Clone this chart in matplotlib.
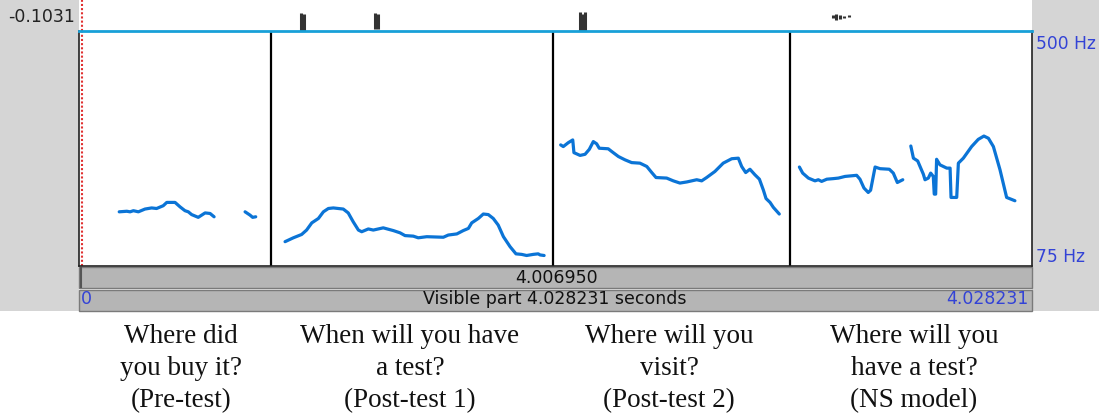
import matplotlib
matplotlib.use("Agg")
from matplotlib import pyplot as plt
from matplotlib.patches import Rectangle

# pitch tracks, time (s) and F0 (Hz)
pre_a_t = [0.170, 0.202, 0.216, 0.230, 0.251, 0.279, 0.307, 0.328, 0.356, 0.371, 0.406, 0.427,
           0.448, 0.462, 0.476, 0.504, 0.533, 0.554, 0.571]
pre_a_f = [173, 174, 173, 175, 173, 178, 180, 179, 184, 190, 190, 182, 175, 173, 168, 163, 171, 170, 164]
pre_b_t = [0.702, 0.723, 0.734, 0.747]
pre_b_f = [173, 167, 163, 164]

post1_t = [0.871, 0.906, 0.941, 0.962, 0.984, 1.012, 1.033, 1.054, 1.075, 1.117, 1.138, 1.159, 1.181,
           1.195, 1.223, 1.244, 1.286, 1.329, 1.357, 1.378, 1.413, 1.434, 1.470, 1.540, 1.561, 1.597,
           1.624, 1.646, 1.660, 1.688, 1.709, 1.730, 1.751, 1.772, 1.794, 1.822, 1.847, 1.871, 1.892,
           1.920, 1.941, 1.949, 1.966]
post1_f = [119, 126, 132, 140, 153, 161, 173, 179, 180, 178, 171, 155, 140, 137, 142, 140, 144, 139,
           135, 130, 129, 126, 128, 127, 131, 133, 139, 143, 153, 161, 169, 168, 161, 149, 128, 110,
           97, 96, 94, 96, 97, 95, 94]

post2_t = [2.036, 2.047, 2.068, 2.087, 2.092, 2.118, 2.139, 2.157, 2.174, 2.188, 2.199, 2.237, 2.252,
           2.280, 2.308, 2.336, 2.371, 2.400, 2.421, 2.439, 2.484, 2.512, 2.540, 2.569, 2.611, 2.632,
           2.653, 2.688, 2.723, 2.759, 2.787, 2.801, 2.818, 2.836, 2.857, 2.876, 2.893, 2.904, 2.921,
           2.935, 2.960]
post2_f = [294, 291, 298, 303, 280, 275, 277, 286, 300, 296, 288, 287, 282, 273, 267, 262, 261, 255,
           244, 235, 234, 229, 225, 227, 231, 229, 235, 246, 261, 269, 270, 255, 244, 250, 240, 232,
           212, 197, 190, 181, 169]

ns_a_t = [3.045, 3.059, 3.083, 3.111, 3.125, 3.139, 3.161, 3.188, 3.210, 3.238, 3.287, 3.301, 3.318,
          3.336, 3.346, 3.365, 3.386, 3.425, 3.442, 3.459, 3.482]
ns_a_f = [254, 243, 234, 229, 231, 228, 232, 233, 234, 237, 239, 232, 216, 208, 212, 254, 251, 250,
          243, 226, 231]
ns_b_t = [3.516, 3.527, 3.545, 3.555, 3.569, 3.576, 3.590, 3.600, 3.611, 3.615, 3.621, 3.625, 3.639,
          3.668, 3.682, 3.686, 3.710, 3.717, 3.738, 3.773, 3.801, 3.825, 3.844, 3.865, 3.893, 3.921,
          3.956]
ns_b_f = [292, 270, 265, 255, 241, 231, 234, 243, 237, 205, 205, 268, 258, 252, 252, 199, 199, 261,
          270, 291, 304, 310, 306, 291, 249, 199, 193]

tracks = [(pre_a_t, pre_a_f), (pre_b_t, pre_b_f), (post1_t, post1_f), (post2_t, post2_f),
          (ns_a_t, ns_a_f), (ns_b_t, ns_b_f)]

boundaries = [0.812, 2.004, 3.005]
cursor_time = 0.013
duration = 4.028231
selection = 4.006950
f0_min, f0_max = 75, 500
wave_min = -0.1031

# waveform bits peeking into the top strip
wave_t = [0.938, 0.952, 1.250, 1.262, 2.118, 2.128, 2.138, 3.185, 3.200, 3.215, 3.232, 3.255]
wave_lo = [-0.1031, -0.1031, -0.1000, -0.1000, -0.1031, -0.1031, -0.1031, -0.083, -0.086, -0.084, -0.083, -0.082]
wave_hi = [-0.075, -0.076, -0.075, -0.076, -0.074, -0.077, -0.074, -0.078, -0.077, -0.079, -0.080, -0.079]

captions = [["Where did", "you buy it?", "(Pre-test)"],
            ["When will you have", "a test?", "(Post-test 1)"],
            ["Where will you", "visit?", "(Post-test 2)"],
            ["Where will you", "have a test?", "(NS model)"]]
caption_x = [181, 410, 669, 914]
caption_baselines = [343, 375, 407]

W, H = 1099, 418
L, R, TOP, BOT = 79, 1032, 31, 266
gray = '#d5d5d5'
bar_gray = '#b5b5b5'
praat_blue = '#3343d6'
pitch_blue = '#0b74d6'

fig = plt.figure(figsize=(W / 100, H / 100), dpi=100)

bg = fig.add_axes([0, 0, 1, 1])
bg.set_xlim(0, W)
bg.set_ylim(H, 0)
bg.axis('off')
bg.add_patch(Rectangle((0, 0), L, 311, fc=gray, ec='none'))
bg.add_patch(Rectangle((R, 0), W - R, 311, fc=gray, ec='none'))
bg.add_patch(Rectangle((L, 267), R - L, 21, fc=bar_gray, ec='#7a7a7a', lw=1))
bg.add_patch(Rectangle((L, 290), R - L, 21, fc=bar_gray, ec='#7a7a7a', lw=1))
bg.plot([L + 2, L + 2], [268, 287], color='#555555', lw=1.5)

wide = 'DejaVu Sans'
bg.text(75, 17, "%.4f" % wave_min, ha='right', va='center', fontsize=12.5, family=wide, color='#222222')
bg.text(1036, 44, "%d Hz" % f0_max, ha='left', va='center', fontsize=12.3, family=wide, color=praat_blue)
bg.text(1036, 257, "%d Hz" % f0_min, ha='left', va='center', fontsize=12.3, family=wide, color=praat_blue)
bg.text(556, 278, "%.6f" % selection, ha='center', va='center', fontsize=12.5, family=wide, color='#111111')
bg.text(555, 299, "Visible part %.6f seconds" % duration, ha='center', va='center', fontsize=12.5,
        family=wide, color='#111111')
bg.text(81, 299, "0", ha='left', va='center', fontsize=12.5, family=wide, color=praat_blue)
bg.text(1029, 299, "%.6f" % duration, ha='right', va='center', fontsize=12.5, family=wide, color=praat_blue)

for cx, lines in zip(caption_x, captions):
    for yb, line in zip(caption_baselines, lines):
        bg.text(cx, yb, line, ha='center', va='baseline', fontsize=19.5, family='Liberation Serif',
                color='#111111')

# waveform strip
wv = fig.add_axes([L / W, (H - TOP) / H, (R - L) / W, TOP / H])
wv.set_xlim(0, duration)
wv.set_ylim(wave_min, -0.055)
wv.axis('off')
wv.vlines(wave_t, wave_lo, wave_hi, color='#333333', lw=2.2)
wv.axvline(cursor_time, color='#e03030', lw=1.5, ls=(0, (1, 1)))

# pitch area
ax = fig.add_axes([L / W, (H - BOT) / H, (R - L) / W, (BOT - TOP) / H])
ax.set_xlim(0, duration)
ax.set_ylim(f0_min, f0_max)
ax.set_xticks([])
ax.set_yticks([])
for side in ['left', 'right', 'bottom']:
    ax.spines[side].set_color('#222222')
    ax.spines[side].set_linewidth(1.2)
ax.spines['top'].set_color('#18a0d8')
ax.spines['top'].set_linewidth(2)
for b in boundaries:
    ax.axvline(b, color='black', lw=1.6)
ax.axvline(cursor_time, color='#e03030', lw=1.5, ls=(0, (1, 1)))
for t, f in tracks:
    ax.plot(t, f, color=pitch_blue, lw=2.3, solid_joinstyle='round', solid_capstyle='round')

fig.savefig("out.png", dpi=100)
